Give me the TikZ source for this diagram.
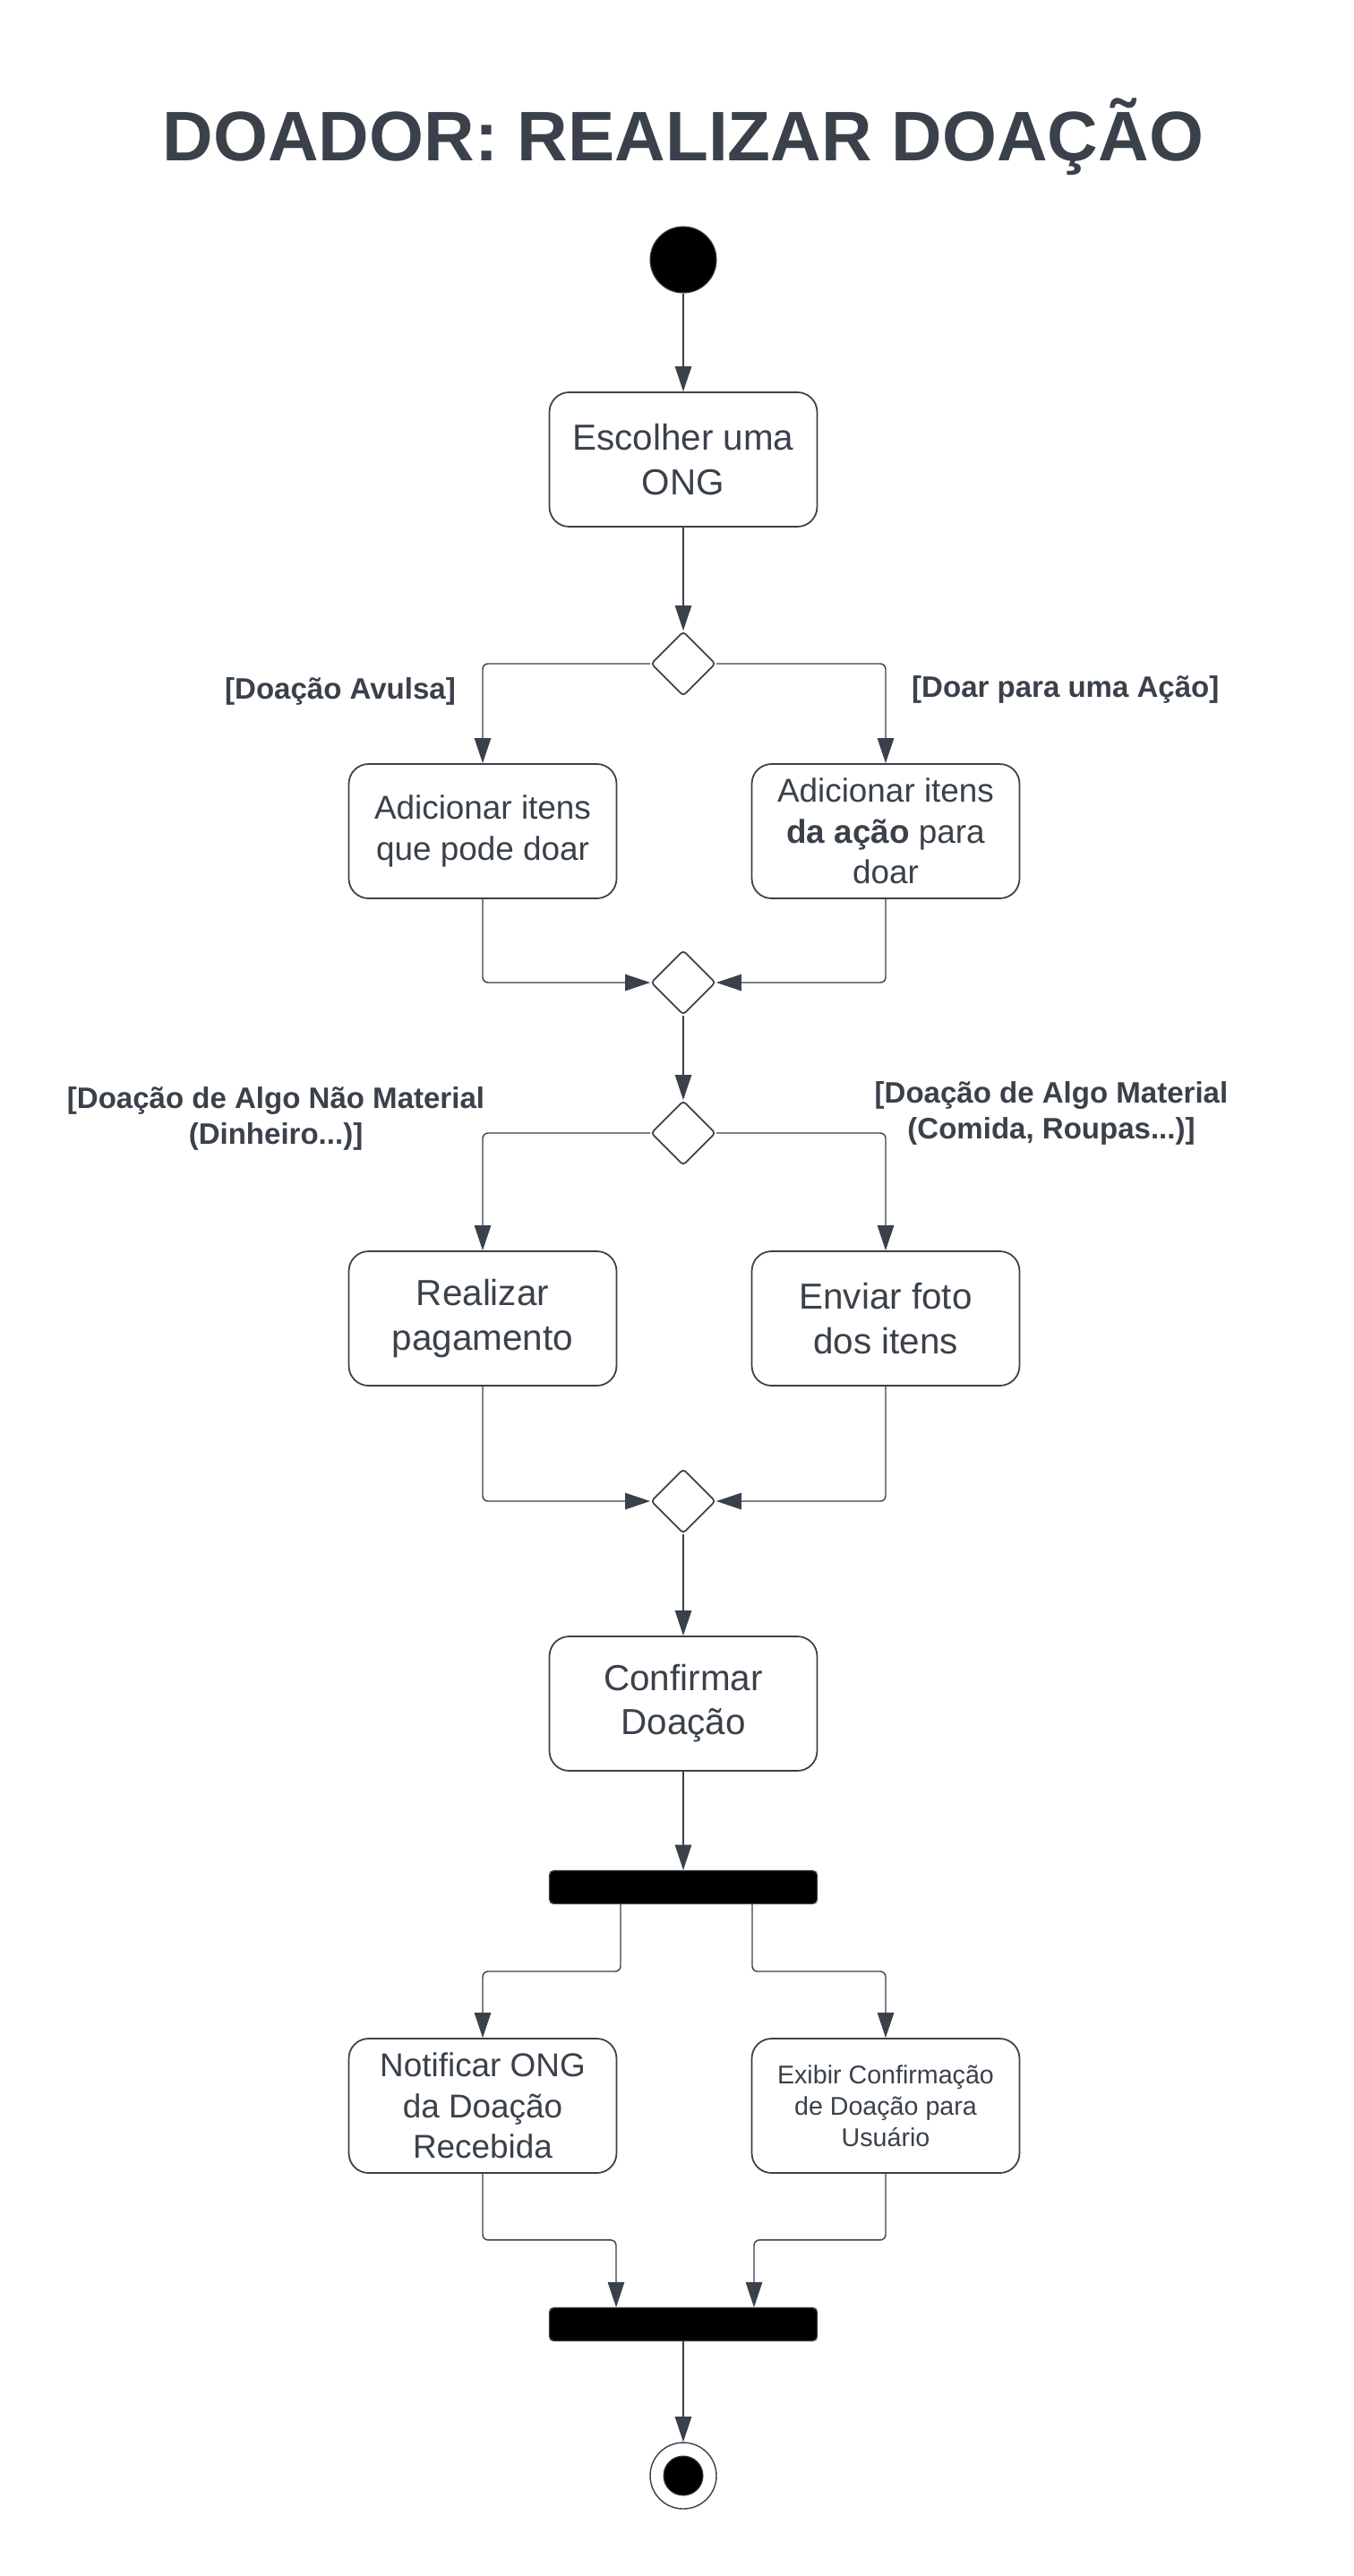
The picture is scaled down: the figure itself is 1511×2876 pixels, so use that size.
\documentclass[tikz,border=0pt]{standalone}
\usepackage{fontspec}
\setmainfont{Liberation Sans}
\usetikzlibrary{arrows.meta,shapes.geometric}

\definecolor{ink}{HTML}{3A414A}

\tikzset{
  acao/.style={draw=ink, line width=1pt, fill=white, rounded corners=0.44cm,
    minimum width=5.98cm, minimum height=3cm, inner sep=2pt, align=center,
    text=ink, font=\fontsize{23}{28}\selectfont},
  decisao/.style={diamond, draw=ink, line width=1pt, fill=white, rounded corners=2pt,
    minimum width=1.44cm, minimum height=1.44cm, inner sep=0pt},
  barra/.style={draw=ink, line width=0.8pt, fill=black, rounded corners=0.1cm,
    minimum width=5.98cm, minimum height=0.74cm, inner sep=0pt},
  guarda/.style={text=ink, align=center, font=\bfseries\fontsize{18.8}{23}\selectfont},
  fluxo/.style={draw=ink, line width=0.8pt, rounded corners=0.12cm,
    -{Triangle[length=16pt,width=10.5pt]}},
}

\begin{document}
\begin{tikzpicture}[x=0.02cm, y=-0.02cm]

      \fill[white] (0,0) rectangle (1511,2876);
      \useasboundingbox (0,0) rectangle (1511,2876);

      \node[text=ink, font=\bfseries\fontsize{44.6}{50}\selectfont] (titulo) at (763,153) {DOADOR: REALIZAR DOAÇÃO};

      \node[circle, draw=ink, line width=0.6pt, fill=black, minimum size=1.48cm, inner sep=0pt] (inicio) at (763,290) {};

      \begin{scope}[every node/.style={acao}]
        \node (escolher)  at (763,513)  {Escolher uma\\ONG};
        \node[font=\fontsize{21}{26}\selectfont] (addAvulsa) at (539,928) {Adicionar itens\\que pode doar};
        \node[font=\fontsize{21}{26}\selectfont] (addAcao)   at (989,928) {Adicionar itens\\\textbf{da ação} para\\doar};
        \node (pagar)     at (539,1472) {Realizar\\pagamento};
        \node (foto)      at (989,1472) {Enviar foto\\dos itens};
        \node (confirmar) at (763,1902) {Confirmar\\Doação};
        \node[font=\fontsize{21}{26}\selectfont] (notificar) at (539,2351) {Notificar ONG\\da Doação\\Recebida};
        \node[font=\fontsize{16.3}{20}\selectfont] (exibir) at (989,2351) {Exibir Confirmação\\de Doação para\\Usuário};
      \end{scope}

      \begin{scope}[every node/.style={decisao}]
        \node (d1) at (763,741)  {};
        \node (d2) at (763,1097) {};
        \node (d3) at (763,1265) {};
        \node (d4) at (763,1676) {};
      \end{scope}

      \node[barra] (fork) at (763,2107) {};
      \node[barra] (join) at (763,2595) {};
      \coordinate (forkL) at (693,2125);
      \coordinate (forkR) at (840,2125);
      \coordinate (joinL) at (688,2576);
      \coordinate (joinR) at (842,2576);

      \node[circle, draw=ink, line width=0.8pt, fill=white, minimum size=1.48cm, inner sep=0pt] (fim) at (763,2764) {};
      \node[circle, draw=ink, line width=0.6pt, fill=black, minimum size=0.88cm, inner sep=0pt] (fimDentro) at (763,2764) {};

      % condicoes
      \node[guarda, anchor=east] (gAvulsa) at (515,772)  {[Doação Avulsa]};
      \node[guarda, anchor=west] (gAcao)   at (1012,770) {[Doar para uma Ação]};
      \node[guarda] (gNaoMat) at (308,1249)  {[Doação de Algo Não Material\\(Dinheiro...)]};
      \node[guarda] (gMat)    at (1174,1243) {[Doação de Algo Material\\(Comida, Roupas...)]};

      \begin{scope}[every path/.style={fluxo}]
        \path (inicio)    -- (escolher);
        \path (escolher)  -- (d1);
        \path (d1)        -| (addAvulsa);
        \path (d1)        -| (addAcao);
        \path (addAvulsa) |- (d2);
        \path (addAcao)   |- (d2);
        \path (d2)        -- (d3);
        \path (d3)        -| (pagar);
        \path (d3)        -| (foto);
        \path (pagar)     |- (d4);
        \path (foto)      |- (d4);
        \path (d4)        -- (confirmar);
        \path (confirmar) -- (fork);
        \path (forkL) -- ++(0,76) -| (notificar);
        \path (forkR) -- ++(0,76) -| (exibir);
        \path (notificar.south) -- ++(0,74) -| (joinL);
        \path (exibir.south)    -- ++(0,74) -| (joinR);
        \path (join)      -- (fim);
      \end{scope}

    \end{tikzpicture}
\end{document}
